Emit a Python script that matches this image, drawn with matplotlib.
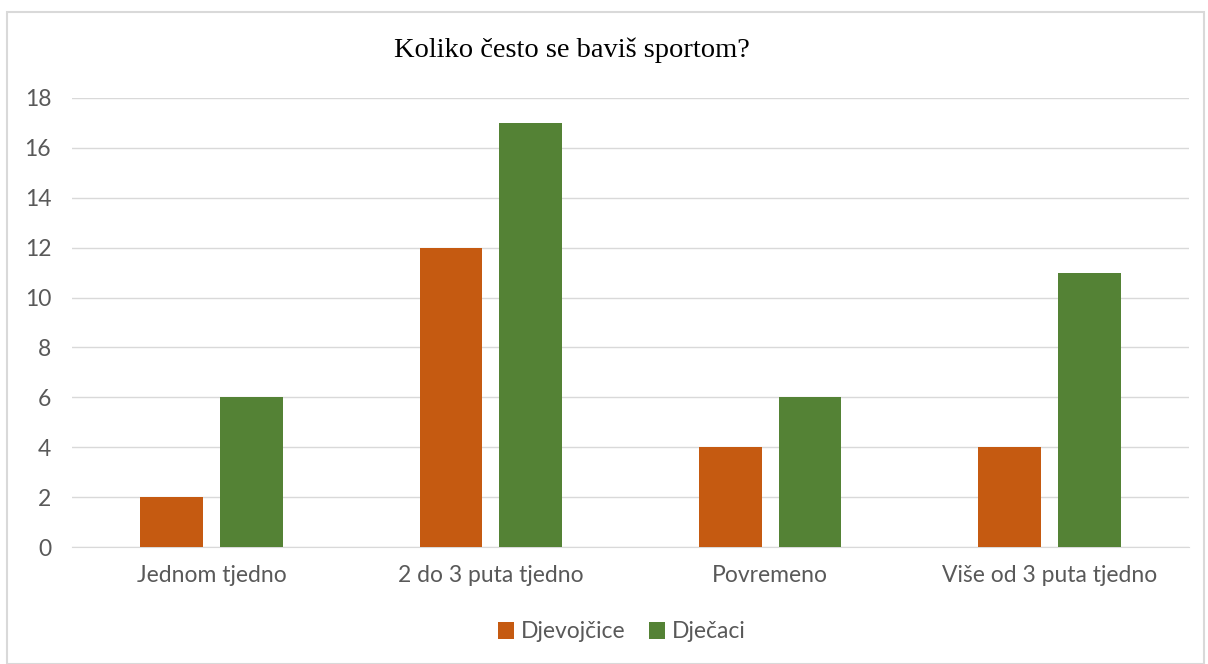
import matplotlib.pyplot as plt
import numpy as np
from matplotlib.patches import Rectangle

categories = ['Jednom tjedno', '2 do 3 puta tjedno', 'Povremeno', 'Više od 3 puta tjedno']
djevojcice = [2, 12, 4, 4]
djecaci = [6, 17, 6, 11]
yticks = [0, 2, 4, 6, 8, 10, 12, 14, 16, 18]

W, H = 1208, 664
fig = plt.figure(figsize=(W / 100, H / 100), dpi=100)
ax = fig.add_axes([72 / W, 1 - 547 / H, 1117 / W, 449 / H])

x = np.arange(len(categories))
bw = 0.225
ax.bar(x - 0.1425, djevojcice, bw, color='#C55A11', label='Djevojčice', zorder=3)
ax.bar(x + 0.1425, djecaci, bw, color='#548235', label='Dječaci', zorder=3)

ax.set_xlim(-0.5, 3.5)
ax.set_ylim(0, 18)
ax.set_yticks(yticks)
ax.set_xticks(x)
ax.set_xticklabels(categories)
ax.grid(axis='y', color='#D9D9D9', lw=1, zorder=0)
for s in ['top', 'right', 'left']:
    ax.spines[s].set_visible(False)
ax.spines['bottom'].set_color('#D9D9D9')
ax.tick_params(length=0, labelsize=16.5, colors='#595959', labelfontfamily='Lato')
ax.tick_params(axis='x', pad=13)
ax.tick_params(axis='y', pad=15)

fig.text(572 / W, 1 - 50 / H, 'Koliko često se baviš sportom?', ha='center', va='center',
         fontsize=20.5, family='Liberation Serif', color='black')

leg = fig.legend(loc='center', bbox_to_anchor=(622 / W, 1 - 632 / H), ncol=2, frameon=False,
                 handlelength=0.7, handleheight=0.7, handletextpad=0.3, columnspacing=1.0,
                 prop={'family': 'Lato', 'size': 16.5})
for t in leg.get_texts():
    t.set_color('#595959')

fig.patches.append(Rectangle((7 / W, 0), 1197 / W, 1 - 12 / H, transform=fig.transFigure,
                             fill=False, edgecolor='#D9D9D9', lw=1.5))

fig.savefig('out.png', dpi=100)
